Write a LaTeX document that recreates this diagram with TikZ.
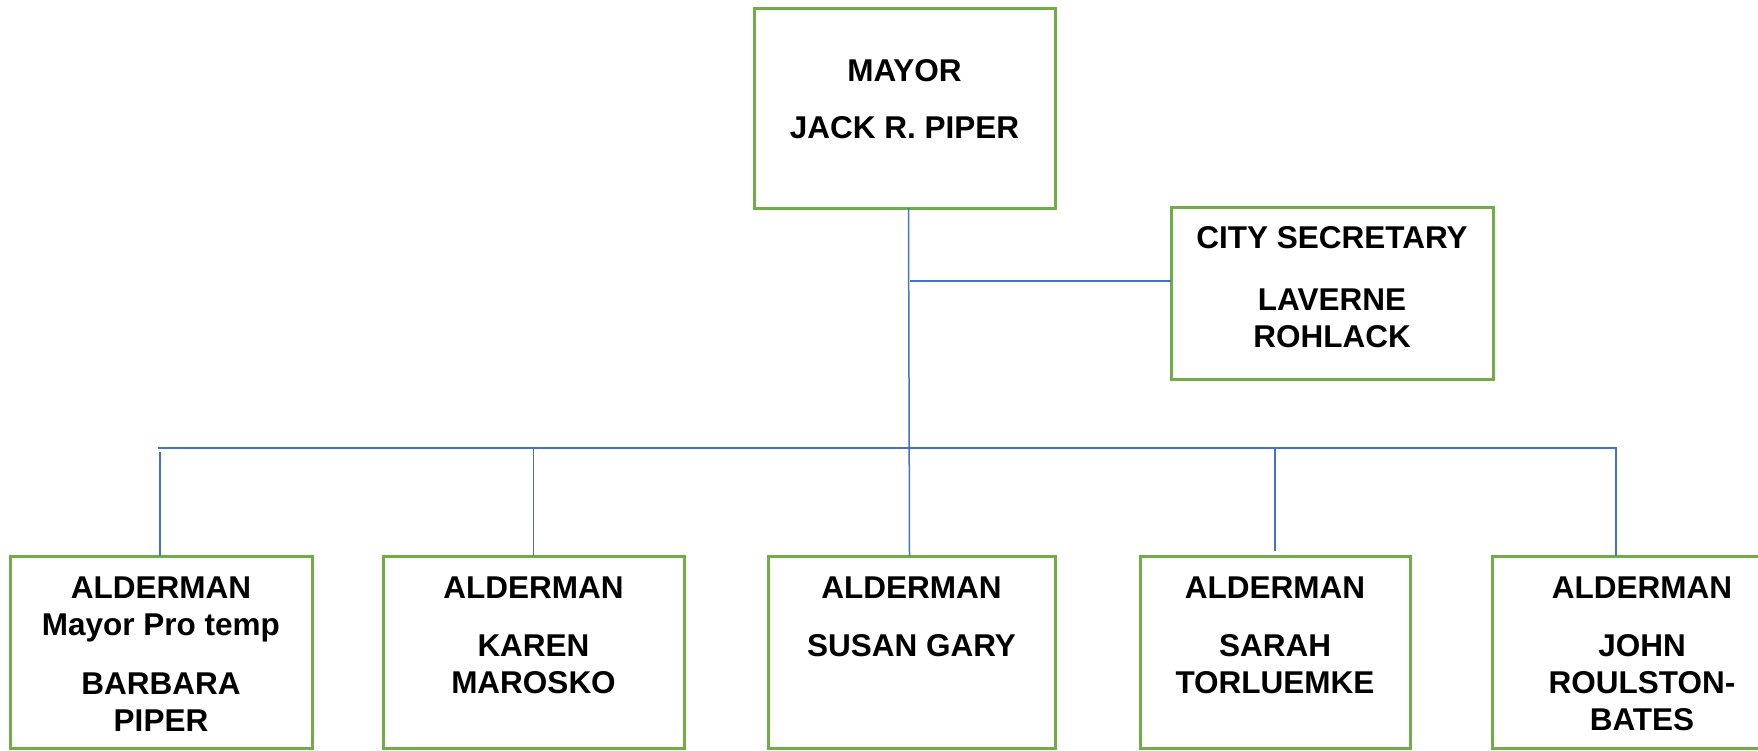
\documentclass[tikz,border=0pt]{standalone}
\usepackage{fontspec}
\setmainfont{Liberation Sans}
\definecolor{boxgreen}{RGB}{112,173,71}
\definecolor{linkblue}{RGB}{68,114,196}
\begin{document}
\begin{tikzpicture}[x=1pt,y=-1pt,
  post/.style={draw=boxgreen,line width=3pt,outer sep=0pt,inner sep=0pt,anchor=north west},
  who/.style={anchor=north,inner sep=0pt,align=center,font=\fontsize{31.5}{37}\selectfont\bfseries},
  link/.style={draw=linkblue,line width=1.5pt}]
% white page, fixed to the reference size
\useasboundingbox[fill=white] (0,0) rectangle (1758,750);

% boxes
\node[post,minimum width=301,minimum height=200] (mayor) at (754,8) {};
\node[post,minimum width=322,minimum height=172] (sec) at (1171,207) {};
\node[post,minimum width=302,minimum height=192] (ald1) at (10,556) {};
\node[post,minimum width=301,minimum height=192] (ald2) at (383,556) {};
\node[post,minimum width=287,minimum height=192] (ald3) at (768,556) {};
\node[post,minimum width=270,minimum height=192] (ald4) at (1140,556) {};
\node[post,minimum width=300,minimum height=192] (ald5) at (1492,556) {};

% names
\node[who,yshift=-51pt] (mayor-t) at (mayor.north) {MAYOR\\[20pt]JACK R. PIPER};
\node[who,yshift=-19pt] (sec-t) at (sec.north) {CITY SECRETARY\\[25pt]LAVERNE\\ROHLACK};
\node[who,yshift=-21pt] (ald1-t) at (ald1.north) {ALDERMAN\\Mayor Pro temp\\[22pt]BARBARA\\PIPER};
\node[who,yshift=-21pt] (ald2-t) at (ald2.north) {ALDERMAN\\[21pt]KAREN\\MAROSKO};
\node[who,yshift=-21pt] (ald3-t) at (ald3.north) {ALDERMAN\\[21pt]SUSAN GARY};
\node[who,yshift=-21pt] (ald4-t) at (ald4.north) {ALDERMAN\\[21pt]SARAH\\TORLUEMKE};
\node[who,yshift=-21pt] (ald5-t) at (ald5.north) {ALDERMAN\\[21pt]JOHN\\ROULSTON-\\BATES};

% connectors
\coordinate (tap) at (910,281);
\coordinate (busL) at (158,448);
\coordinate (busR) at (1616,448);
\draw[link] ([xshift=4pt]mayor.south) -- ([xshift=-2pt]ald3.north);
\draw[link] (tap) -- (tap -| sec.west);
\draw[link] (busL) -- (busR) -- (busR |- ald5.north);
\draw[link] ([xshift=2pt,yshift=-4pt]busL) -- ([xshift=2pt]busL |- ald1.north);
\draw[link] (ald2.north |- busL) -- (ald2.north);
\draw[link] (ald4.north |- busL) -- ([yshift=5pt]ald4.north);

\end{tikzpicture}
\end{document}
